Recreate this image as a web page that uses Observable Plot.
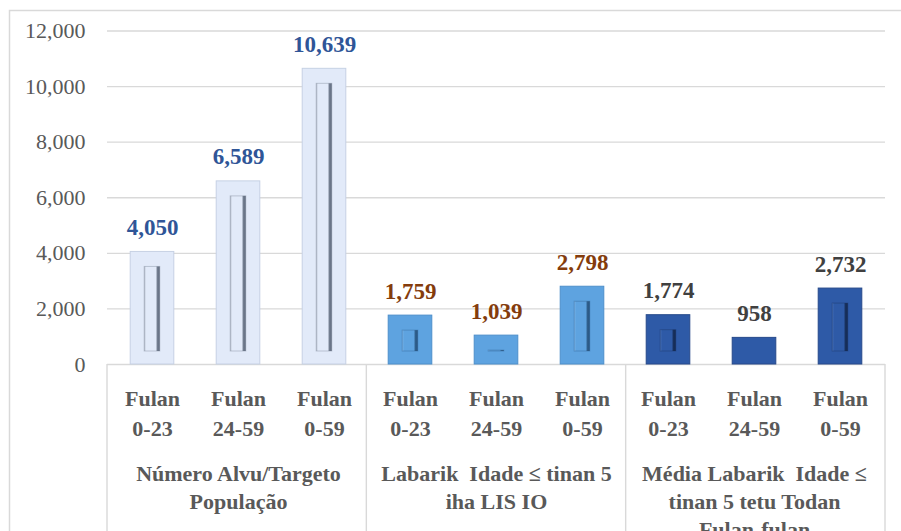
<!DOCTYPE html>
<html><head><meta charset="utf-8">
<script src="https://cdn.jsdelivr.net/npm/d3@7"></script>
<script src="https://cdn.jsdelivr.net/npm/@observablehq/plot@0.6"></script>
<style>
body{margin:0;background:#fff;}
#chart{position:relative;width:901px;height:531px;overflow:hidden;}
</style>
</head><body><div id="chart"></div>
<script>
// ---- data ----
const groupLabels = [
  "Número Alvu/Targeto\nPopulação",
  "Labarik  Idade ≤ tinan 5\niha LIS IO",
  "Média Labarik  Idade ≤\ntinan 5 tetu Todan\nFulan-fulan"
];
const subLabels = ["Fulan\n0-23", "Fulan\n24-59", "Fulan\n0-59"];
const targetValues = [4050, 6589, 10639];
const lisioValues = [1759, 1039, 2798];
const mediaValues = [1774, 958, 2732];
const yTicks = [0, 2000, 4000, 6000, 8000, 10000, 12000];

const series = [targetValues, lisioValues, mediaValues];
const rows = [];
series.forEach((vals, g) => vals.forEach((v, i) =>
  rows.push({key: g + "-" + i, g, i, value: v, sub: subLabels[i], group: groupLabels[g]})));

// ---- style ----
const W = 901, H = 531, ML = 107, MR = 16, MT = 30.5, MB = 167;
const base = ["#e2eaf9", "#5ea3e0", "#2e5aa7"];
const edge = ["#c6d1e4", "#4d8fcb", "#26498a"];
const innerLight = ["#b4bcc9", "#7db6e8", "#4a72b8"];
const innerDark = ["#6a7588", "#2c5a86", "#162d58"];
const labelColor = ["#2f5597", "#843c0c", "#404040"];
const serifFont = "Liberation Serif";
const fmt = d3.format(",");

const plot = Plot.plot({
  width: W, height: H,
  marginLeft: ML, marginRight: MR, marginTop: MT, marginBottom: MB,
  style: {fontSize: "22px", color: "#595959", background: "transparent", overflow: "hidden"},
  x: {domain: rows.map(d => d.key), padding: 0, axis: null},
  y: {domain: [0, 12000], ticks: yTicks, tickFormat: fmt, tickSize: 0, tickPadding: 22, label: null},
  color: {type: "identity"},
  marks: [
    Plot.ruleY(yTicks, {stroke: "#d9d9d9", strokeWidth: 1.4}),
    Plot.barY(rows, {x: "key", y: "value", fill: d => base[d.g], stroke: d => edge[d.g], strokeWidth: 1, insetLeft: 21.2, insetRight: 21.2}),
    Plot.barY(rows, {x: "key", y: "value", fill: d => "url(#inner" + d.g + ")", stroke: d => innerDark[d.g], strokeOpacity: 0.35, strokeWidth: 1, insetLeft: 35.2, insetRight: 35.2, insetTop: 15, insetBottom: 13}),
    Plot.text(rows, {x: "key", y: "value", text: d => fmt(d.value), fill: d => labelColor[d.g], fontWeight: "bold", fontSize: 23, lineAnchor: "bottom", dy: -17}),
    Plot.text(rows, {x: "key", text: "sub", frameAnchor: "bottom", lineAnchor: "top", dy: 21, fontWeight: "bold", fontSize: 22, fill: "#595959", lineHeight: 1.33}),
    Plot.text(rows.filter(d => d.i === 1), {x: "key", text: "group", frameAnchor: "bottom", lineAnchor: "top", dy: 96, fontWeight: "bold", fontSize: 22, fill: "#595959", lineHeight: 1.29})
  ]
});

const svg = d3.select(plot);
svg.attr("font-family", serifFont).style("font-family", serifFont);
svg.selectAll("text").attr("font-family", serifFont).style("font-family", serifFont);

const defs = svg.insert("defs", ":first-child");
base.forEach((c, g) => {
  const lg = defs.append("linearGradient").attr("id", "inner" + g).attr("x1", 0).attr("x2", 1).attr("y1", 0).attr("y2", 0);
  [[0, innerLight[g]], [0.12, c], [0.74, c], [0.86, innerDark[g]], [1, innerDark[g]]]
    .forEach(([o, col]) => lg.append("stop").attr("offset", o).attr("stop-color", col));
});
// outer chart border
svg.insert("rect", "defs + *").attr("x", 9.5).attr("y", 10.5).attr("width", 1000).attr("height", 1000)
  .attr("fill", "none").attr("stroke", "#d9d9d9").attr("stroke-width", 1.5);
// category separators from the plot's x band scale
const xs = plot.scale("x");
const band = d3.scaleBand().domain(xs.domain).range(xs.range).padding(0);
const yBottom = H - MB;
const bounds = [0, 3, 6, 9].map(k => k < 9 ? band(xs.domain[k]) : band.range()[1]);
svg.append("g").selectAll("line").data(bounds).join("line")
  .attr("x1", d => d).attr("x2", d => d).attr("y1", yBottom).attr("y2", H)
  .attr("stroke", "#d9d9d9").attr("stroke-width", 1.4);

document.getElementById("chart").appendChild(plot);
</script>
</body></html>
